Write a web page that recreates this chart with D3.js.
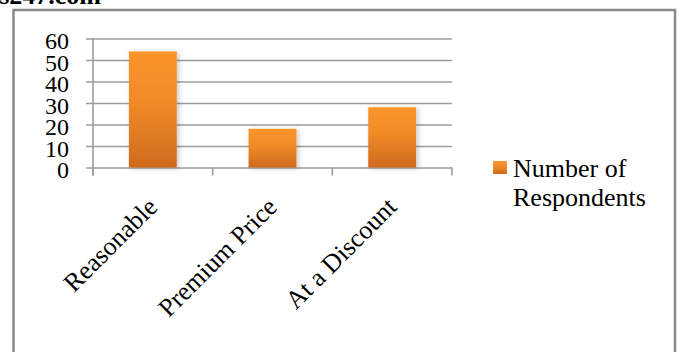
<!DOCTYPE html>
<html>
<head>
<meta charset="utf-8">
<script src="https://cdn.jsdelivr.net/npm/d3@7"></script>
<style>
  html, body { margin: 0; padding: 0; background: #fff; }
  svg { display: block; }
  text { font-family: "Liberation Serif", "Times New Roman", serif; fill: #000; }
</style>
</head>
<body>
<svg id="chart" width="680" height="352"></svg>
<script>
// Survey responses: how respondents perceive the product price
const categories = ["Reasonable", "Premium Price", "At a Discount"];
const respondents = [54, 18, 28];
const yTicks = [0, 10, 20, 30, 40, 50, 60];
const seriesName = ["Number of", "Respondents"];

const svg = d3.select("#chart");

// gradient fill for the bars and legend key
const defs = svg.append("defs");
const grad = defs.append("linearGradient")
  .attr("id", "barFill").attr("x1", 0).attr("y1", 0).attr("x2", 0).attr("y2", 1);
grad.append("stop").attr("offset", "0%").attr("stop-color", "#fb952b");
grad.append("stop").attr("offset", "45%").attr("stop-color", "#ef8a28");
grad.append("stop").attr("offset", "100%").attr("stop-color", "#cf6a1e");
const shadow = defs.append("filter").attr("id", "barShadow")
  .attr("x", "-20%").attr("y", "-10%").attr("width", "150%").attr("height", "130%");
shadow.append("feDropShadow").attr("dx", 2).attr("dy", 1).attr("stdDeviation", 2.5)
  .attr("flood-color", "#000").attr("flood-opacity", 0.22);

// site caption at the very top
svg.append("text")
  .attr("x", 101).attr("y", 4)
  .attr("text-anchor", "end")
  .style("font-size", "26px").style("font-weight", "bold")
  .text("s247.com");

// outer chart frame
svg.append("rect")
  .attr("x", 13.5).attr("y", 10).attr("width", 661.5).attr("height", 360)
  .attr("fill", "none").attr("stroke", "#8a8a8a").attr("stroke-width", 2.5);

const plotLeft = 93, plotRight = 452, plotTop = 38.5, plotBottom = 167.5;

const x = d3.scaleBand()
  .domain(categories)
  .range([plotLeft, plotRight])
  .paddingInner(0.6)
  .paddingOuter(0.3);

const y = d3.scaleLinear()
  .domain([0, 60])
  .range([plotBottom, plotTop]);

const gridColor = "#9c9c9c";

// y axis with horizontal gridlines
const yAxis = svg.append("g")
  .attr("transform", `translate(${plotLeft},0)`)
  .call(d3.axisLeft(y).tickValues(yTicks).tickSize(7).tickPadding(17).tickFormat(d3.format("d")));
yAxis.select(".domain").remove();
yAxis.selectAll(".tick line")
  .attr("x2", plotRight - plotLeft).attr("x1", -7)
  .attr("stroke", gridColor).attr("stroke-width", 1.6);
yAxis.selectAll(".tick text")
  .style("font-size", "24px").attr("dy", "10px");

// vertical axis line
svg.append("line")
  .attr("x1", plotLeft).attr("x2", plotLeft)
  .attr("y1", plotTop).attr("y2", plotBottom + 8)
  .attr("stroke", gridColor).attr("stroke-width", 1.6);

// category axis with rotated labels
const xAxis = svg.append("g")
  .attr("transform", `translate(0,${plotBottom})`)
  .call(d3.axisBottom(x).tickSize(0).tickPadding(0));
xAxis.select(".domain").remove();
xAxis.selectAll(".tick text")
  .style("font-size", "26px")
  .attr("text-anchor", "end")
  .attr("x", 0).attr("y", 0).attr("dy", 0)
  .attr("transform", "translate(6,41) rotate(-45)");

// category boundary tick marks
const edgeOffset = x.step() * x.paddingOuter();
const boundaries = [x(categories[0]) - edgeOffset]
  .concat(categories.map(c => x(c) + x.bandwidth() + edgeOffset));
svg.append("g").selectAll("line")
  .data(boundaries)
  .join("line")
  .attr("x1", d => d).attr("x2", d => d)
  .attr("y1", plotBottom).attr("y2", plotBottom + 8)
  .attr("stroke", gridColor).attr("stroke-width", 1.6);

// bars
svg.append("g").selectAll("rect")
  .data(categories.map((c, i) => ({ c, v: respondents[i] })))
  .join("rect")
  .attr("x", d => x(d.c))
  .attr("y", d => y(d.v))
  .attr("width", x.bandwidth())
  .attr("height", d => y(0) - y(d.v))
  .attr("fill", "url(#barFill)")
  .attr("filter", "url(#barShadow)");

// legend
const legend = svg.append("g");
legend.append("rect")
  .attr("x", 493).attr("y", 161).attr("width", 14).attr("height", 13)
  .attr("fill", "url(#barFill)");
legend.append("text")
  .attr("x", 513).attr("y", 177)
  .style("font-size", "26px")
  .selectAll("tspan")
  .data(seriesName)
  .join("tspan")
  .attr("x", 513)
  .attr("dy", (d, i) => i === 0 ? 0 : 29)
  .text(d => d);
</script>
</body>
</html>
